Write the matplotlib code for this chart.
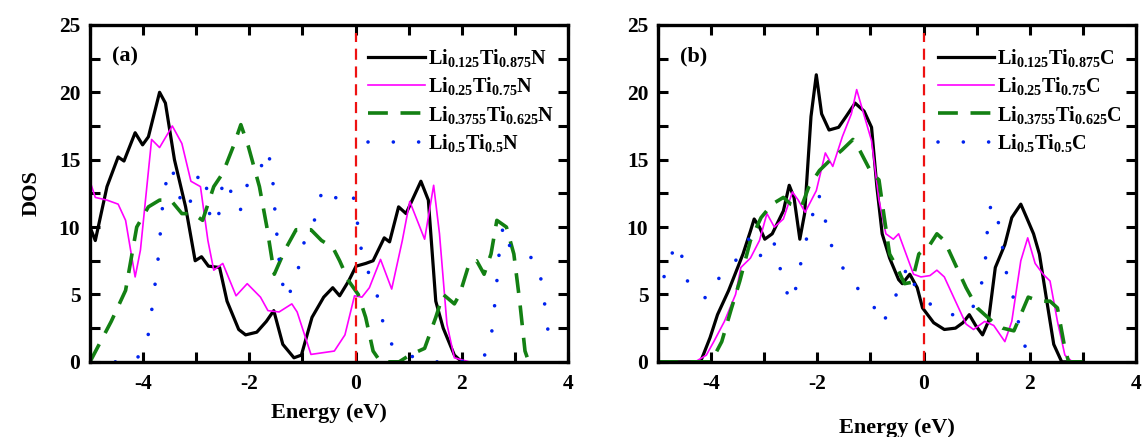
import numpy as np
import matplotlib.pyplot as plt
from matplotlib.ticker import MultipleLocator

plt.rcParams['font.family'] = 'Liberation Serif'
plt.rcParams['font.weight'] = 'bold'
plt.rcParams['mathtext.fontset'] = 'custom'
plt.rcParams['mathtext.rm'] = 'Liberation Serif:bold'
plt.rcParams['mathtext.bf'] = 'Liberation Serif:bold'
plt.rcParams['axes.unicode_minus'] = False

# ---- panel (a): nitrides ----
a_black_x = [-5, -4.9, -4.68, -4.47, -4.36, -4.15, -4.01, -3.9, -3.69, -3.58, -3.41, -3.2, -3.02, -2.9,
             -2.77, -2.56, -2.42, -2.2, -2.07, -1.86, -1.68, -1.54, -1.37, -1.16, -1.02, -0.82, -0.6,
             -0.43, -0.3, -0.13, 0.01, 0.19, 0.33, 0.54, 0.64, 0.81, 0.95, 1.23, 1.37, 1.51, 1.65, 1.86, 2.0]
a_black_y = [10, 9.0, 13, 15.2, 14.9, 17.0, 16.1, 16.7, 20.0, 19.2, 15, 11.5, 7.5, 7.8,
             7.1, 7.0, 4.5, 2.4, 2.0, 2.2, 3.0, 3.8, 1.3, 0.3, 0.5, 3.3, 4.8,
             5.5, 4.9, 6.0, 7.1, 7.3, 7.5, 9.2, 8.9, 11.5, 11.0, 13.4, 12.0, 4.5, 2.5, 0.5, 0]

a_mag_x = [-5, -4.9, -4.68, -4.47, -4.33, -4.15, -4.05, -3.84, -3.69, -3.45, -3.27, -3.1, -2.92, -2.78,
           -2.67, -2.5, -2.25, -2.04, -1.79, -1.65, -1.44, -1.2, -1.1, -0.84, -0.4, -0.2, -0.02, 0.12,
           0.26, 0.47, 0.68, 0.88, 1.02, 1.3, 1.47, 1.58, 1.72, 1.86, 2.14]
a_mag_y = [13.4, 12.2, 12.0, 11.7, 10.5, 6.3, 8.3, 16.5, 15.9, 17.5, 16.2, 13.4, 13.0, 9.0,
           6.8, 7.3, 4.9, 5.8, 4.8, 3.8, 3.7, 4.3, 3.7, 0.55, 0.8, 2.0, 4.9, 4.8,
           5.5, 7.6, 5.4, 9.0, 11.9, 9.1, 13.1, 9.5, 2.8, 0.3, 0]

a_grn_x = [-5, -4.6, -4.33, -4.12, -3.9, -3.69, -3.48, -3.27, -3.06, -2.88, -2.67, -2.5, -2.3, -2.16,
           -2.02, -1.81, -1.67, -1.53, -1.33, -1.12, -0.84, -0.64, -0.43, -0.3, -0.13, 0.05, 0.19, 0.33,
           0.47, 0.82, 1.02, 1.3, 1.51, 1.65, 1.86, 1.96, 2.14, 2.28, 2.42, 2.55, 2.66, 2.84, 2.98, 3.09,
           3.19, 3.26]
a_grn_y = [0, 3.0, 5.3, 10, 11.5, 12.0, 12.0, 11.0, 11.0, 10.5, 13.0, 14.0, 16.0, 17.6,
           16.0, 13.0, 10.0, 6.5, 8.3, 9.8, 9.8, 9.0, 8.5, 7.5, 6.0, 5.0, 3.3, 0.8,
           0, 0, 0.5, 1.0, 3.3, 5.0, 4.3, 5.0, 7.3, 7.5, 6.5, 8.0, 10.5, 10.0, 8.0, 4.5,
           0.8, 0]

a_blu_x = [-5, -4.16, -3.93, -3.81, -3.71, -3.64, -3.59, -3.46, -3.36, -3.22, -3.02, -2.95, -2.83,
           -2.73, -2.59, -2.55, -2.49, -2.37, -2.3, -2.17, -2.09, -1.81, -1.69, -1.58, -1.52, -1.45,
           -1.4, -1.31, -1.13, -0.95, -0.75, -0.65, -0.49, -0.29, -0.04, 0.03, 0.08, 0.19, 0.36, 0.47,
           0.54, 0.74, 1.13, 1.53, 1.93, 2.4, 2.55, 2.64, 2.71, 2.78, 2.91, 3.13, 3.43, 3.51, 3.57,
           3.62, 3.71]
a_blu_y = [0, 0, 1.3, 4.6, 7.9, 11.3, 13.0, 14.5, 12.8, 11.2, 12.5, 14.1, 13.7,
           10.4, 10.3, 12.0, 13.6, 13.1, 11.5, 11.2, 12.9, 14.0, 15.7, 14.7, 11.3, 7.9,
           6.3, 4.6, 6.0, 9.2, 10.7, 12.4, 13.0, 11.6, 12.2, 10.5, 8.8, 7.1, 5.6, 4.0,
           2.3, 0.9, 0.3, 0, 0, 0.2, 1.7, 5.0, 8.4, 10.1, 8.5, 8.2, 7.4, 5.7, 4.0,
           2.4, 0.7]

# ---- panel (b): carbides ----
b_black_x = [-5, -4.2, -4.02, -3.88, -3.67, -3.4, -3.26, -3.19, -3.09, -2.99, -2.85, -2.64, -2.53, -2.44,
             -2.33, -2.24, -2.12, -2.02, -1.92, -1.78, -1.6, -1.46, -1.29, -1.12, -0.98, -0.88, -0.78,
             -0.64, -0.47, -0.4, -0.26, -0.12, -0.02, 0.19, 0.39, 0.6, 0.74, 0.86, 0.98, 1.11, 1.22,
             1.35, 1.53, 1.66, 1.83, 1.94, 2.07, 2.18, 2.32, 2.45, 2.6, 3.0]
b_black_y = [0, 0, 1.8, 3.5, 5.3, 8.0, 9.7, 10.6, 10.0, 9.1, 9.5, 11.2, 13.1, 12.2,
             9.1, 11.0, 18.2, 21.3, 18.4, 17.2, 17.4, 18.2, 19.2, 18.6, 17.4, 13.0, 9.5,
             7.7, 6.1, 5.8, 6.5, 5.5, 4.0, 2.9, 2.4, 2.5, 2.9, 3.5, 2.7, 2.0, 3.0,
             7.0, 8.7, 10.7, 11.7, 10.7, 9.5, 8.0, 4.5, 1.3, 0, 0]

b_mag_x = [-4.85, -4.3, -4.09, -3.95, -3.75, -3.54, -3.44, -3.26, -3.09, -2.95, -2.81, -2.64, -2.47,
           -2.36, -2.23, -2.02, -1.85, -1.71, -1.53, -1.36, -1.26, -1.15, -0.98, -0.84, -0.71, -0.57,
           -0.47, -0.33, -0.19, -0.05, 0.12, 0.25, 0.39, 0.6, 0.8, 0.94, 1.15, 1.32, 1.53, 1.66, 1.83,
           1.96, 2.1, 2.25, 2.38, 2.52, 2.66, 2.8, 3.0]
b_mag_y = [0, 0, 0.5, 1.5, 3.0, 5.0, 7.0, 7.7, 9.0, 11.0, 10.0, 10.6, 12.6,
           12.0, 11.1, 12.7, 15.5, 14.5, 16.7, 18.4, 20.2, 18.7, 16.4, 12.0, 9.5, 9.1,
           9.5, 8.0, 6.5, 6.3, 6.4, 6.8, 6.3, 4.5, 2.8, 2.4, 3.0, 2.7, 1.5, 3.0, 7.5,
           9.2, 7.3, 6.5, 6.0, 3.0, 0.5, 0, 0]

b_grn_x = [-5, -4.0, -3.8, -3.63, -3.46, -3.26, -3.06, -2.85, -2.64, -2.5, -2.3, -2.16, -1.96, -1.75,
           -1.54, -1.33, -1.19, -0.98, -0.84, -0.74, -0.64, -0.5, -0.36, -0.22, -0.09, 0.12, 0.25,
           0.39, 0.6, 0.8, 1.01, 1.29, 1.49, 1.7, 1.83, 1.97, 2.18, 2.38, 2.52, 2.66, 2.73, 3.0]
b_grn_y = [0, 0, 1.5, 3.8, 6.0, 9.0, 10.7, 11.7, 12.2, 11.7, 11.5, 13.0, 14.2, 15.0,
           15.7, 16.5, 15.6, 14.0, 13.5, 10.7, 8.0, 7.0, 5.8, 5.9, 8.0, 8.7, 9.5,
           9.0, 7.2, 5.5, 4.0, 3.0, 2.5, 2.3, 3.5, 4.8, 4.5, 4.5, 4.0, 1.0, 0, 0]

b_blu_x = [-5, -4.9, -4.8, -4.6, -4.52, -4.42, -4.09, -3.88, -3.57, -3.4, -3.22, -3.05, -2.82, -2.72,
           -2.63, -2.48, -2.37, -2.3, -2.2, -2.09, -1.98, -1.87, -1.8, -1.65, -1.43, -1.19, -0.95,
           -0.78, -0.59, -0.44, -0.3, -0.16, 0.12, 0.46, 0.84, 1.04, 1.12, 1.18, 1.2, 1.26, 1.36,
           1.42, 1.49, 1.56, 1.67, 1.76, 1.85, 2.0]
b_blu_y = [4.5, 6.1, 7.7, 8.8, 7.2, 5.6, 4.7, 6.1, 7.2, 8.8, 9.3, 7.7, 8.9, 7.3,
           5.6, 4.4, 6.0, 7.6, 9.2, 10.9, 12.5, 11.0, 9.3, 7.8, 6.4, 5.2, 4.2,
           2.8, 4.2, 5.8, 7.1, 5.6, 4.3, 3.5, 3.5, 4.8, 6.4, 8.1, 9.8, 11.5, 11.7,
           10.0, 8.4, 6.6, 5.1, 3.4, 1.8, 0.2]

labels_a = [r'$\mathbf{Li_{0.125}Ti_{0.875}N}$', r'$\mathbf{Li_{0.25}Ti_{0.75}N}$',
            r'$\mathbf{Li_{0.3755}Ti_{0.625}N}$', r'$\mathbf{Li_{0.5}Ti_{0.5}N}$']
labels_b = [r'$\mathbf{Li_{0.125}Ti_{0.875}C}$', r'$\mathbf{Li_{0.25}Ti_{0.75}C}$',
            r'$\mathbf{Li_{0.3755}Ti_{0.625}C}$', r'$\mathbf{Li_{0.5}Ti_{0.5}C}$']

fig = plt.figure(figsize=(11.42, 4.37), dpi=100)
ax1 = fig.add_axes([0.0788, 0.172, 0.4186, 0.771])
ax2 = fig.add_axes([0.5762, 0.172, 0.4186, 0.771])


def draw(ax, series, labels, tag):
    styles = [dict(color='black', lw=2.3, ls='-'),
              dict(color='#ff00ff', lw=1.2, ls='-'),
              dict(color='#138013', lw=2.6, ls=(0, (5.5, 3.5))),
              dict(color='#0022ee', lw=2.6, ls=(0, (0.01, 7)), dash_capstyle='round')]
    for (x, y), lab, st in zip(series, labels, styles):
        ax.plot(x, y, label=lab, **st)
    ax.axvline(0, ymax=0.975, color='#ee1111', lw=1.6, ls=(0, (5, 3)))
    ax.set_xlim(-5, 4)
    ax.set_ylim(0, 25)
    ax.xaxis.set_major_locator(MultipleLocator(2))
    ax.xaxis.set_minor_locator(MultipleLocator(1))
    ax.yaxis.set_major_locator(MultipleLocator(5))
    ax.yaxis.set_minor_locator(MultipleLocator(2.5))
    ax.tick_params(which='both', direction='in', top=True, right=True, length=7, width=2.2,
                   labelsize=15.5)
    ax.tick_params(axis='x', pad=9)
    ax.tick_params(axis='y', pad=7)
    for s in ax.spines.values():
        s.set_linewidth(2.4)
    ax.text(0.045, 0.905, tag, transform=ax.transAxes, fontsize=16, fontweight='bold', va='center')
    ax.legend(loc='upper right', frameon=False, fontsize=14.5, handlelength=2.8,
              handletextpad=0.15, labelspacing=0.3, borderaxespad=0.3,
              bbox_to_anchor=(1.0, 0.975))


draw(ax1, [(a_black_x, a_black_y), (a_mag_x, a_mag_y), (a_grn_x, a_grn_y), (a_blu_x, a_blu_y)],
     labels_a, '(a)')
draw(ax2, [(b_black_x, b_black_y), (b_mag_x, b_mag_y), (b_grn_x, b_grn_y), (b_blu_x, b_blu_y)],
     labels_b, '(b)')

ax1.set_ylabel('DOS', fontsize=16, fontweight='bold', labelpad=12)
ax1.set_xlabel('Energy (eV)', fontsize=16, fontweight='bold', labelpad=6)
ax2.set_xlabel('Energy (eV)', fontsize=16, fontweight='bold', labelpad=17)

fig.savefig('out.png', dpi=100)
